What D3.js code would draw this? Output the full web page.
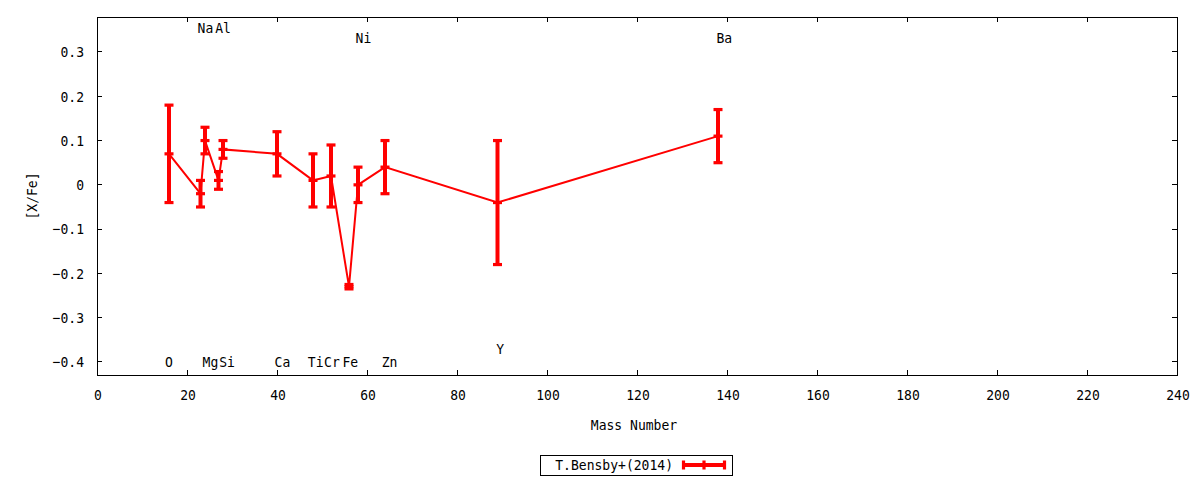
<!DOCTYPE html>
<html><head><meta charset="utf-8">
<script src="https://cdn.jsdelivr.net/npm/d3@7/dist/d3.min.js"></script>
<style>
html,body{margin:0;padding:0;background:#fff;}
text{font-family:"DejaVu Sans Mono",monospace;font-size:14.5px;fill:#000;}
</style></head>
<body><svg id="c" width="1200" height="480"></svg>
<script>
const elements = ["O","Na","Mg","Al","Si","Ca","Ti","Cr","Fe","Ni","Zn","Y","Ba"];
const massNumber = [16,23,24,27,28,40,48,52,56,58,64,89,138];
const xFe = [0.07,-0.02,0.10,0.01,0.08,0.07,0.01,0.02,-0.23,0.00,0.04,-0.04,0.11];
const xFeErr = [0.11,0.03,0.03,0.02,0.02,0.05,0.06,0.07,0.005,0.04,0.06,0.14,0.06];
const labelX = [16.0,24.1,25.2,28.0,28.9,41.2,48.6,52.2,56.3,59.2,65.0,89.6,139.4];
const labelY = [-0.40,0.355,-0.40,0.355,-0.40,-0.40,-0.40,-0.40,-0.40,0.333,-0.40,-0.37,0.333];
const xTicks = [0,20,40,60,80,100,120,140,160,180,200,220,240];
const yTicks = [-0.4,-0.3,-0.2,-0.1,0,0.1,0.2,0.3];
const seriesName = "T.Bensby+(2014)";

const W=1200,H=480;
const L=97,R=1177,T=17,B=375;
const SX=0.9;
const svg=d3.select("#c");
const x=d3.scaleLinear().domain([0,240]).range([L,R]);
const y=d3.scaleLinear().domain([-0.4294,0.379]).range([B,T]);
const red="#ff0000";

function txt(px,py,s,anchor,rot){
  const t=svg.append("text")
    .attr("transform",`translate(${px},${py})`+(rot?` rotate(${rot})`:"")+` scale(${SX},1)`)
    .attr("text-anchor",anchor||"middle")
    .attr("dominant-baseline","central")
    .text(s);
  return t;
}

// ticks (inward, mirrored)
const tk=5;
const g=svg.append("g").attr("stroke","#000").attr("stroke-width",1).attr("shape-rendering","crispEdges");
xTicks.forEach(v=>{
  g.append("line").attr("x1",x(v)).attr("x2",x(v)).attr("y1",B).attr("y2",B-tk);
  g.append("line").attr("x1",x(v)).attr("x2",x(v)).attr("y1",T).attr("y2",T+tk);
});
yTicks.forEach(v=>{
  g.append("line").attr("x1",L).attr("x2",L+tk).attr("y1",y(v)).attr("y2",y(v));
  g.append("line").attr("x1",R).attr("x2",R-tk).attr("y1",y(v)).attr("y2",y(v));
});
g.append("rect").attr("x",L).attr("y",T).attr("width",R-L).attr("height",B-T).attr("fill","none");

// tick labels
xTicks.forEach(v=>txt(x(v)+1,395,String(v),"middle"));
const yf=d3.format(".1f");
yTicks.forEach(v=>txt(84,y(v),v===0?"0":yf(v),"end"));

// axis titles
txt((L+R)/2-3,425,"Mass Number","middle");
txt(32,196,"[X/Fe]","middle",-90);

// element labels
elements.forEach((e,i)=>txt(x(labelX[i]),y(labelY[i]),e,"middle"));

// data line
const line=d3.line().x((d,i)=>x(massNumber[i])).y(d=>y(d));
svg.append("path").datum(xFe).attr("d",line).attr("fill","none").attr("stroke",red).attr("stroke-width",2);

// error bars
const eb=svg.append("g").attr("stroke",red);
xFe.forEach((v,i)=>{
  const cx=x(massNumber[i]);
  const lo=y(v-xFeErr[i]), hi=y(v+xFeErr[i]), c=y(v);
  eb.append("line").attr("x1",cx).attr("x2",cx).attr("y1",lo).attr("y2",hi).attr("stroke-width",4);
  [lo,hi,c].forEach(yy=>eb.append("line").attr("x1",cx-4.5).attr("x2",cx+4.5).attr("y1",yy).attr("y2",yy).attr("stroke-width",3.2));
});

// legend
svg.append("rect").attr("x",540.5).attr("y",455.5).attr("width",192).attr("height",20)
  .attr("fill","none").attr("stroke","#000").attr("stroke-width",1);
txt(673,465,seriesName,"end");
const lg=svg.append("g").attr("stroke",red);
lg.append("line").attr("x1",682).attr("x2",726).attr("y1",465).attr("y2",465).attr("stroke-width",4);
[683.5,704,724.5].forEach(xx=>lg.append("line").attr("x1",xx).attr("x2",xx).attr("y1",460.5).attr("y2",469.5).attr("stroke-width",3.2));
</script></body></html>
